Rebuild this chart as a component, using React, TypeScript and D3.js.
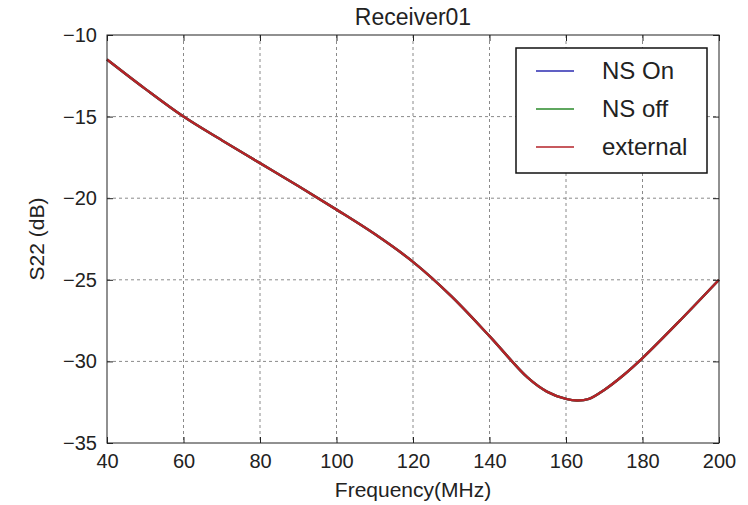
import React, { useRef, useEffect } from 'react';
import * as d3 from 'd3';

const FREQ = [40, 50, 60, 70, 80, 90, 100, 110, 120, 130, 140, 150, 155, 160, 163, 166, 170, 175, 180, 190, 200];
const NS_ON = [-11.5, -13.3, -15.0, -16.45, -17.85, -19.25, -20.7, -22.2, -23.9, -26.0, -28.45, -31.0, -31.85, -32.3, -32.4, -32.3, -31.75, -30.85, -29.8, -27.45, -25.0];
const NS_OFF = [-11.5, -13.3, -15.0, -16.45, -17.85, -19.25, -20.7, -22.2, -23.9, -26.0, -28.45, -31.0, -31.85, -32.3, -32.4, -32.3, -31.75, -30.85, -29.8, -27.45, -25.0];
const EXTERNAL = [-11.5, -13.3, -15.0, -16.45, -17.85, -19.25, -20.7, -22.2, -23.9, -26.0, -28.45, -31.0, -31.85, -32.3, -32.4, -32.3, -31.75, -30.85, -29.8, -27.45, -25.0];

const SERIES = [
    { name: 'NS On', values: NS_ON, color: '#2b2bb0' },
    { name: 'NS off', values: NS_OFF, color: '#2a8a2a' },
    { name: 'external', values: EXTERNAL, color: '#b52228' },
];

const X_TICKS = [40, 60, 80, 100, 120, 140, 160, 180, 200];
const Y_TICKS = [-35, -30, -25, -20, -15, -10];

const W = 748, H = 505;
const M = { left: 107, right: 29, top: 35, bottom: 62 };
const FONT = '"Liberation Sans", Arial, sans-serif';

const App = () => {
    const svgRef = useRef<SVGSVGElement>(null);

    useEffect(() => {
        const svg = d3.select(svgRef.current);
        svg.selectAll('*').remove();

        const iw = W - M.left - M.right;
        const ih = H - M.top - M.bottom;

        const x = d3.scaleLinear().domain([40, 200]).range([0, iw]);
        const y = d3.scaleLinear().domain([-35, -10]).range([ih, 0]);

        const g = svg.append('g').attr('transform', `translate(${M.left},${M.top})`);

        // grid (dotted in the original, rendered as short dashes)
        g.append('g').selectAll('line')
            .data(X_TICKS.slice(1, -1))
            .enter().append('line')
            .attr('x1', d => x(d)).attr('x2', d => x(d))
            .attr('y1', 0).attr('y2', ih)
            .attr('stroke', '#8a8a8a').attr('stroke-dasharray', '3,3');
        g.append('g').selectAll('line')
            .data(Y_TICKS.slice(1, -1))
            .enter().append('line')
            .attr('y1', d => y(d)).attr('y2', d => y(d))
            .attr('x1', 0).attr('x2', iw)
            .attr('stroke', '#8a8a8a').attr('stroke-dasharray', '3,3');

        // lines, red drawn last so it sits on top
        const line = d3.line<number>()
            .x((_, i) => x(FREQ[i]))
            .y(d => y(d))
            .curve(d3.curveCatmullRom.alpha(0.5));

        SERIES.forEach(s => {
            g.append('path')
                .attr('d', line(s.values))
                .attr('fill', 'none')
                .attr('stroke', s.color)
                .attr('stroke-width', 2.4);
        });

        // axes, inward ticks on all four sides
        const styleAxis = (sel: any, showText: boolean) => {
            sel.select('.domain').remove();
            sel.selectAll('line').attr('stroke', '#222');
            sel.selectAll('text')
                .attr('font-family', FONT)
                .attr('font-size', 20)
                .attr('fill', '#222')
                .style('display', showText ? null : 'none');
        };

        const fmt = d3.format('d');

        g.append('g')
            .attr('transform', `translate(0,${ih})`)
            .call(d3.axisBottom(x).tickValues(X_TICKS).tickFormat(fmt as any).tickSizeInner(-6).tickPadding(11))
            .call(sel => styleAxis(sel, true));
        g.append('g')
            .call(d3.axisTop(x).tickValues(X_TICKS).tickSizeInner(-6))
            .call(sel => styleAxis(sel, false));
        g.append('g')
            .call(d3.axisLeft(y).tickValues(Y_TICKS).tickFormat(fmt as any).tickSizeInner(-6).tickPadding(10))
            .call(sel => styleAxis(sel, true));
        g.append('g')
            .attr('transform', `translate(${iw},0)`)
            .call(d3.axisRight(y).tickValues(Y_TICKS).tickSizeInner(-6))
            .call(sel => styleAxis(sel, false));

        g.append('rect')
            .attr('width', iw).attr('height', ih)
            .attr('fill', 'none').attr('stroke', '#222').attr('stroke-width', 1);

        // title and axis labels
        svg.append('text')
            .attr('x', M.left + iw / 2).attr('y', 25)
            .attr('text-anchor', 'middle')
            .attr('font-family', FONT).attr('font-size', 23).attr('fill', '#222')
            .text('Receiver01');
        svg.append('text')
            .attr('x', M.left + iw / 2).attr('y', 497)
            .attr('text-anchor', 'middle')
            .attr('font-family', FONT).attr('font-size', 21).attr('fill', '#222')
            .text('Frequency(MHz)');
        svg.append('text')
            .attr('transform', `translate(44,${M.top + ih / 2}) rotate(-90)`)
            .attr('text-anchor', 'middle')
            .attr('font-family', FONT).attr('font-size', 21).attr('fill', '#222')
            .text('S22 (dB)');

        // legend
        const lg = svg.append('g').attr('transform', 'translate(516,48)');
        lg.append('rect')
            .attr('width', 191).attr('height', 125)
            .attr('fill', 'white').attr('stroke', '#111').attr('stroke-width', 1.5);
        SERIES.forEach((s, i) => {
            const cy = 23 + i * 38;
            lg.append('line')
                .attr('x1', 20).attr('x2', 58)
                .attr('y1', cy).attr('y2', cy)
                .attr('stroke', s.color).attr('stroke-width', 1.5);
            lg.append('text')
                .attr('x', 86).attr('y', cy)
                .attr('dy', '0.35em')
                .attr('font-family', FONT).attr('font-size', 24).attr('fill', '#222')
                .text(s.name);
        });
    }, []);

    return (
        <div style={{ position: 'absolute', left: 0, top: 0, background: 'white' }}>
            <svg ref={svgRef} width={W} height={H} style={{ display: 'block' }} />
        </div>
    );
};

export default App;
